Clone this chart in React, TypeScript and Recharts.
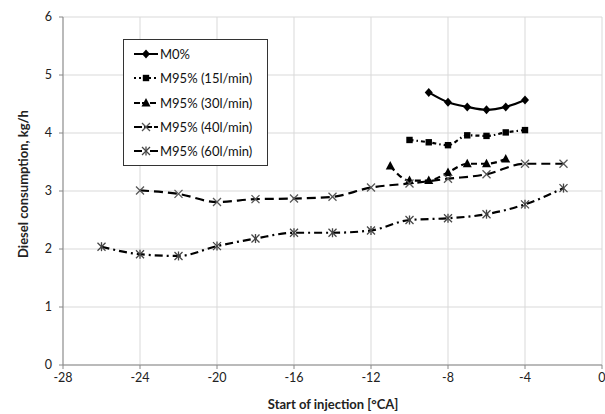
import React from 'react';
import { LineChart, Line, XAxis, YAxis, CartesianGrid, Legend, Label } from 'recharts';

const xTicks = [-28, -24, -20, -16, -12, -8, -4, 0];
const yTicks = [0, 1, 2, 3, 4, 5, 6];

const m0X = [-9, -8, -7, -6, -5, -4];
const m0Y = [4.7, 4.53, 4.45, 4.4, 4.45, 4.57];

const m15X = [-10, -9, -8, -7, -6, -5, -4];
const m15Y = [3.88, 3.84, 3.79, 3.96, 3.95, 4.01, 4.05];

const m30X = [-11, -10, -9, -8, -7, -6, -5];
const m30Y = [3.43, 3.18, 3.18, 3.32, 3.47, 3.47, 3.55];

const m40X = [-24, -22, -20, -18, -16, -14, -12, -10, -8, -6, -4, -2];
const m40Y = [3.01, 2.95, 2.81, 2.86, 2.87, 2.9, 3.06, 3.13, 3.21, 3.29, 3.47, 3.47];

const m60X = [-26, -24, -22, -20, -18, -16, -14, -12, -10, -8, -6, -4, -2];
const m60Y = [2.04, 1.91, 1.88, 2.05, 2.18, 2.28, 2.28, 2.32, 2.5, 2.53, 2.6, 2.77, 3.05];

const seriesNames = ['M0%', 'M95% (15l/min)', 'M95% (30l/min)', 'M95% (40l/min)', 'M95% (60l/min)'];

const toPts = (xs: number[], ys: number[]) => xs.map((x, i) => ({ x, y: ys[i] }));

const FONT = 'Lato, "Open Sans", sans-serif';

const Diamond = ({ cx, cy }: any) => (
  <polygon points={`${cx},${cy - 4.5} ${cx + 4},${cy} ${cx},${cy + 4.5} ${cx - 4},${cy}`} fill="#000" />
);
const Square = ({ cx, cy }: any) => <rect x={cx - 3.2} y={cy - 3.2} width={6.4} height={6.4} fill="#000" />;
const Triangle = ({ cx, cy }: any) => (
  <polygon points={`${cx},${cy - 5} ${cx + 4.5},${cy + 3.5} ${cx - 4.5},${cy + 3.5}`} fill="#000" />
);
const Cross = ({ cx, cy }: any) => (
  <g stroke="#555" strokeWidth={1.3}>
    <line x1={cx - 4} y1={cy - 4} x2={cx + 4} y2={cy + 4} />
    <line x1={cx - 4} y1={cy + 4} x2={cx + 4} y2={cy - 4} />
  </g>
);
const Asterisk = ({ cx, cy }: any) => (
  <g stroke="#444" strokeWidth={1.3}>
    <line x1={cx - 4} y1={cy - 4} x2={cx + 4} y2={cy + 4} />
    <line x1={cx - 4} y1={cy + 4} x2={cx + 4} y2={cy - 4} />
    <line x1={cx} y1={cy - 4.5} x2={cx} y2={cy + 4.5} />
  </g>
);

const markers = [Diamond, Square, Triangle, Cross, Asterisk];
const dashes = [undefined, '4 3 1.5 3', '6 4', '9 5', '8 4 2 4'];
const legendDashes = [undefined, '2 3', '6 2', '8 2', '8 3 2 3'];
const datasets = [toPts(m0X, m0Y), toPts(m15X, m15Y), toPts(m30X, m30Y), toPts(m40X, m40Y), toPts(m60X, m60Y)];

const renderDot = (Comp: any) => (p: any) => <Comp key={p.index} cx={p.cx} cy={p.cy} />;

const LegendBox = () => (
  <div
    style={{
      border: '1.3px solid #333',
      background: '#fff',
      width: 145,
      padding: '2px 0',
      fontFamily: FONT,
      fontSize: 13,
      color: '#111',
      boxSizing: 'border-box',
    }}
  >
    {seriesNames.map((name, i) => {
      const M = markers[i];
      return (
        <div key={name} style={{ display: 'flex', alignItems: 'center', height: 24.3, paddingLeft: 9 }}>
          <svg width={26} height={12} style={{ flex: 'none' }}>
            <line x1={1} y1={6} x2={25} y2={6} stroke="#000" strokeWidth={2} strokeDasharray={legendDashes[i]} />
            <M cx={13} cy={6} />
          </svg>
          <span style={{ marginLeft: 1, whiteSpace: 'nowrap' }}>{name}</span>
        </div>
      );
    })}
  </div>
);

const YTitle = () => (
  <text
    x={23}
    y={184}
    transform="rotate(-90 23 184)"
    textAnchor="middle"
    dominantBaseline="central"
    fontFamily={FONT}
    fontWeight="bold"
    fontSize={13}
    fill="#222"
  >
    Diesel consumption, kg/h
  </text>
);

const XTitle = () => (
  <text x={333} y={404} textAnchor="middle" dominantBaseline="central" fontFamily={FONT} fontWeight="bold" fontSize={13} fill="#222">
    Start of injection [°CA]
  </text>
);

export default function App() {
  return (
    <div style={{ position: 'absolute', left: 0, top: 0, width: 605, height: 414, background: '#fff' }}>
      <LineChart width={605} height={414} margin={{ top: 17, right: 3, bottom: 0, left: 0 }}>
        <CartesianGrid stroke="#d9d9d9" strokeWidth={1} />
        <XAxis
          type="number"
          dataKey="x"
          domain={[-28, 0]}
          ticks={xTicks}
          height={49}
          stroke="#888"
          tickSize={4}
          tickMargin={4}
          tick={{ fontFamily: FONT, fontSize: 12.5, fill: '#222' }}
          allowDuplicatedCategory={false}
        >
          <Label content={<XTitle />} />
        </XAxis>
        <YAxis
          type="number"
          dataKey="y"
          domain={[0, 6]}
          ticks={yTicks}
          width={63}
          stroke="#888"
          tickSize={4}
          tickMargin={7}
          tick={{ fontFamily: FONT, fontSize: 12.5, fill: '#222' }}
        >
          <Label content={<YTitle />} />
        </YAxis>
        <Legend
          layout="vertical"
          align="center"
          verticalAlign="middle"
          wrapperStyle={{ left: 123, top: 39, width: 145 }}
          content={() => <LegendBox />}
        />
        {datasets.map((d, i) => (
          <Line
            key={seriesNames[i]}
            name={seriesNames[i]}
            data={d}
            dataKey="y"
            type="monotone"
            stroke="#000"
            strokeWidth={2.2}
            strokeDasharray={dashes[i]}
            dot={renderDot(markers[i])}
            activeDot={false}
            isAnimationActive={false}
          />
        ))}
      </LineChart>
    </div>
  );
}
